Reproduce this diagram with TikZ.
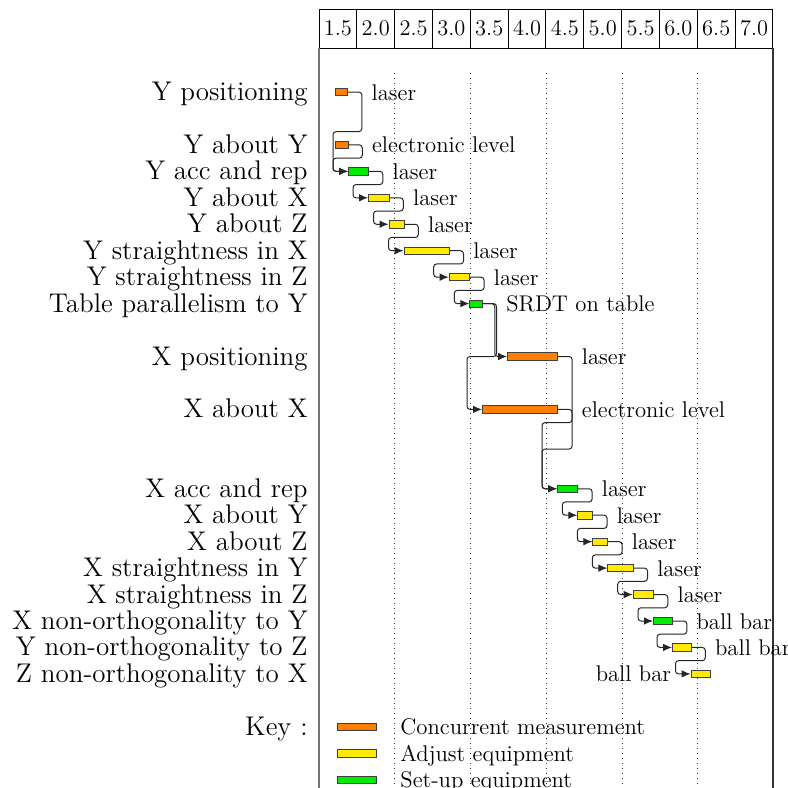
\documentclass[tikz,border=0pt]{standalone}
\usepackage{fontspec}
\usetikzlibrary{arrows.meta,calc}

\definecolor{concur}{RGB}{255,128,0}
\definecolor{adjust}{RGB}{255,234,0}
\definecolor{setup}{RGB}{0,236,0}

\tikzset{
  taskbar/.style={rectangle, draw=black!75, line width=0.4pt, inner sep=0pt,
    minimum height=3.7pt, anchor=west},
  tasknote/.style={anchor=base west, inner sep=0pt, font=\fontsize{11.35}{13}\selectfont},
  leftnote/.style={anchor=base east, inner sep=0pt, font=\fontsize{11.35}{13}\selectfont},
  rowlabel/.style={anchor=base east, inner sep=0pt, font=\fontsize{13.5}{16}\selectfont},
  headcell/.style={inner sep=0pt, font=\fontsize{11.2}{13}\selectfont},
  link/.style={draw=black!85, line width=0.5pt, rounded corners=1.5pt,
    -{Latex[length=4.5pt,width=3.8pt]}},
  gridline/.style={draw=black!80, line width=0.45pt, dash pattern=on 0.5pt off 2pt},
}

% y position of chart row #1
\newcommand\rowy[1]{92+26.45*#1}

% task bar: name, colour, start, end, row
\newcommand\taskbar[5]{%
  \node[taskbar, fill=#2, minimum width={(#4-#3)*0.5pt}] (#1) at (#3,{\rowy{#5}}) {};}

% link to a later row whose bar starts no later than the first one ends
\newcommand\linkback[2]{%
  \draw[link] let \p1=(#1.east), \p2=(#2.west) in
    (\p1) -- (\x1+7pt,\y1) -- (\x1+7pt,{(\y1+\y2)/2})
    -- (\x2-7.5pt,{(\y1+\y2)/2}) -- (\x2-7.5pt,\y2) -- (\p2);}

% link to a bar that starts after the first one ends
\newcommand\linkfwd[2]{%
  \draw[link] let \p1=(#1.east), \p2=(#2.west) in
    (\p1) -- ({(\x1+\x2)/2},\y1) -- ({(\x1+\x2)/2},\y2) -- (\p2);}

\begin{document}
\begin{tikzpicture}[x=0.5pt, y=-0.5pt]
\useasboundingbox (0,0) rectangle (788,788);

% time header
\foreach \lab [count=\i from 0] in {1.5,2.0,2.5,3.0,3.5,4.0,4.5,5.0,5.5,6.0,6.5,7.0} {
  \node[headcell] (h\i) at ({319+37.83*(\i+0.5)},28) {\lab};
  \draw[line width=0.5pt] ({319+37.83*\i},9) rectangle ({319+37.83*(\i+1)},48);
}

% chart frame
\draw[draw=black!55, line width=1pt] (319,48) -- (319,788);
\draw[draw=black!80, line width=0.6pt] (773,48) -- (773,788);

% dotted time grid
\foreach \gx in {394.7,470.3,546.3,622,697.7}
  \draw[gridline] (\gx,73) -- (\gx,788);

% row labels
\foreach \r/\txt in {0/Y positioning, 2/Y about Y, 3/Y acc and rep, 4/Y about X,
    5/Y about Z, 6/Y straightness in X, 7/Y straightness in Z,
    8/Table parallelism to Y, 10/X positioning, 12/X about X,
    15/X acc and rep, 16/X about Y, 17/X about Z, 18/X straightness in Y,
    19/X straightness in Z, 20/X non-orthogonality to Y,
    21/Y non-orthogonality to Z, 22/Z non-orthogonality to X, 24/Key :}
  \node[rowlabel] (lab\r) at (308,{\rowy{\r}+8.5}) {\txt};

% task bars
\taskbar{b0}{concur}{335}{347}{0}
\taskbar{b2}{concur}{335}{347.5}{2}
\taskbar{b3}{setup}{348}{368}{3}
\taskbar{b4}{adjust}{368}{388.5}{4}
\taskbar{b5}{adjust}{388.5}{403.5}{5}
\taskbar{b6}{adjust}{403.5}{448.7}{6}
\taskbar{b7}{adjust}{448.7}{469.3}{7}
\taskbar{b8}{setup}{469.3}{481.7}{8}
\taskbar{b10}{concur}{507}{557.3}{10}
\taskbar{b12}{concur}{482}{557.3}{12}
\taskbar{b15}{setup}{557}{577.3}{15}
\taskbar{b16}{adjust}{577.3}{592.3}{16}
\taskbar{b17}{adjust}{592.3}{607.3}{17}
\taskbar{b18}{adjust}{607.3}{632.7}{18}
\taskbar{b19}{adjust}{632.7}{653}{19}
\taskbar{b20}{setup}{653}{672}{20}
\taskbar{b21}{adjust}{672}{690.5}{21}
\taskbar{b22}{adjust}{690.5}{709.5}{22}

% equipment notes
\foreach \b/\r/\txt in {b0/0/laser, b2/2/electronic level, b3/3/laser, b4/4/laser,
    b5/5/laser, b6/6/laser, b7/7/laser, b8/8/SRDT on table, b10/10/laser,
    b12/12/electronic level, b15/15/laser, b16/16/laser, b17/17/laser,
    b18/18/laser, b19/19/laser, b20/20/ball bar, b21/21/ball bar}
  \node[tasknote] (n\b) at ([xshift=11.7pt]\b.east |- 0,{\rowy{\r}+8}) {\txt};
\node[leftnote] (nb22) at ([xshift=-9.5pt]b22.west |- 0,{\rowy{22}+8}) {ball bar};

% dependencies
\linkback{b0}{b3}
\linkback{b2}{b3}
\linkback{b3}{b4}
\linkback{b4}{b5}
\linkback{b5}{b6}
\linkback{b6}{b7}
\linkback{b7}{b8}
\linkfwd{b8}{b10}
\linkback{b8}{b12}
\linkback{b10}{b15}
\linkback{b12}{b15}
\linkback{b15}{b16}
\linkback{b16}{b17}
\linkback{b17}{b18}
\linkback{b18}{b19}
\linkback{b19}{b20}
\linkback{b20}{b21}
\linkback{b21}{b22}

% key
\foreach \r/\c/\txt in {24/concur/Concurrent measurement, 25/adjust/Adjust equipment,
    26/setup/Set-up equipment} {
  \node[taskbar, fill=\c, minimum width=19.5pt] (key\r) at (337,{\rowy{\r}}) {};
  \node[tasknote] (keytxt\r) at (400,{\rowy{\r}+8}) {\txt};
}
\end{tikzpicture}
\end{document}
